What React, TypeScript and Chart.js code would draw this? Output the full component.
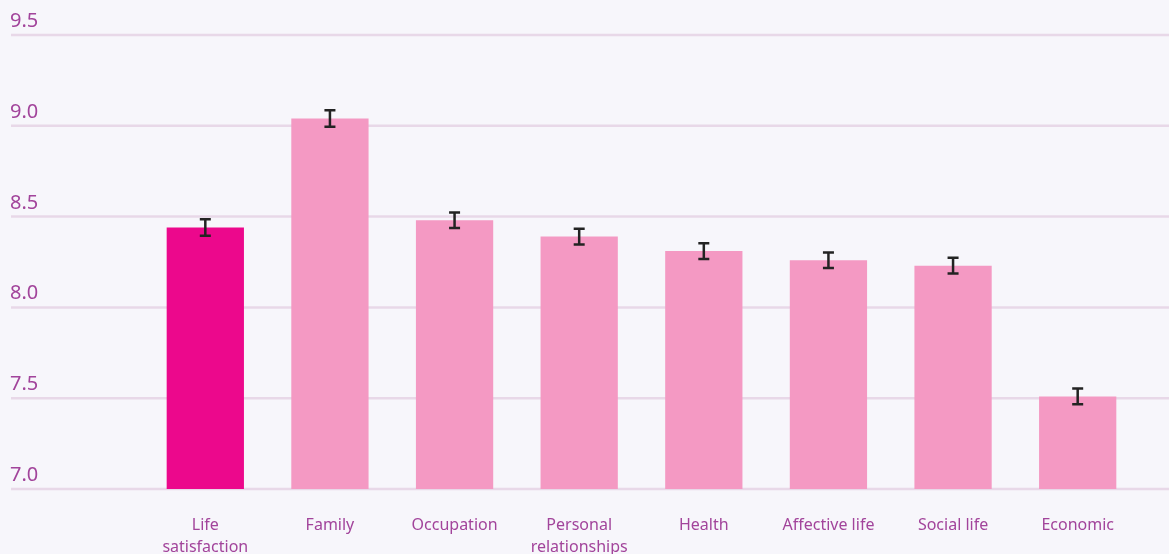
import React, { useEffect, useRef } from "react";
import { Chart, registerables } from "chart.js";

Chart.register(...registerables);

const categories: (string | string[])[] = [
  ["Life", "satisfaction"],
  "Family",
  "Occupation",
  ["Personal", "relationships"],
  "Health",
  "Affective life",
  "Social life",
  "Economic",
];
const values = [8.44, 9.04, 8.48, 8.39, 8.31, 8.26, 8.23, 7.51];
const errors = [0.045, 0.045, 0.043, 0.043, 0.043, 0.043, 0.043, 0.043];
const yTicks = [7.0, 7.5, 8.0, 8.5, 9.0, 9.5];

const BG = "#f7f6fb";
const TEXT = "#a2449b";
const GRID = "#e8d8e8";
const FONT = "'Noto Sans', sans-serif";

export default function App() {
  const ref = useRef<HTMLCanvasElement | null>(null);

  useEffect(() => {
    document.body.style.margin = "0";
    document.body.style.background = BG;
    const canvas = ref.current;
    if (!canvas) return;

    const gridPlugin = {
      id: "fullGrid",
      beforeDatasetsDraw(chart: any) {
        const ctx = chart.ctx;
        const y = chart.scales.y;
        ctx.save();
        ctx.strokeStyle = GRID;
        ctx.lineWidth = 2.5;
        ctx.fillStyle = TEXT;
        ctx.font = `20px ${FONT}`;
        ctx.textAlign = "left";
        ctx.textBaseline = "alphabetic";
        yTicks.forEach((t) => {
          const py = y.getPixelForValue(t);
          ctx.beginPath();
          ctx.moveTo(11, py);
          ctx.lineTo(chart.width, py);
          ctx.stroke();
          ctx.fillText(t.toFixed(1), 10, py - 8);
        });
        ctx.restore();
      },
    };

    const errorPlugin = {
      id: "errorBars",
      afterDatasetsDraw(chart: any) {
        const ctx = chart.ctx;
        const y = chart.scales.y;
        const meta = chart.getDatasetMeta(0);
        ctx.save();
        ctx.strokeStyle = "#232323";
        ctx.lineWidth = 2.5;
        meta.data.forEach((bar: any, i: number) => {
          const x = bar.x;
          const top = y.getPixelForValue(values[i] + errors[i]);
          const bot = y.getPixelForValue(values[i] - errors[i]);
          ctx.beginPath();
          ctx.moveTo(x, top);
          ctx.lineTo(x, bot);
          ctx.moveTo(x - 5.5, top);
          ctx.lineTo(x + 5.5, top);
          ctx.moveTo(x - 5.5, bot);
          ctx.lineTo(x + 5.5, bot);
          ctx.stroke();
        });
        ctx.restore();
      },
    };

    const chart = new Chart(canvas, {
      type: "bar",
      data: {
        labels: categories,
        datasets: [
          {
            data: values,
            backgroundColor: values.map((_, i) => (i === 0 ? "#ec088c" : "#f499c3")),
            barPercentage: 0.62,
            categoryPercentage: 1,
          },
        ],
      },
      options: {
        animation: false,
        responsive: true,
        maintainAspectRatio: false,
        layout: { padding: { left: 143, right: 29, top: 35, bottom: 0 } },
        plugins: { legend: { display: false }, tooltip: { enabled: false } },
        scales: {
          y: {
            display: false,
            min: 7,
            max: 9.5,
          },
          x: {
            grid: { display: false, drawTicks: false },
            border: { display: false },
            ticks: {
              color: TEXT,
              font: { family: FONT, size: 16, lineHeight: "22px" },
              padding: 25,
              maxRotation: 0,
              autoSkip: false,
            },
            afterFit: (scale: any) => {
              scale.height = 65;
            },
          },
        },
      },
      plugins: [gridPlugin, errorPlugin],
    });
    return () => chart.destroy();
  }, []);

  return (
    <div style={{ position: "fixed", left: 0, top: 0, width: 1169, height: 554, background: BG }}>
      <canvas ref={ref} />
    </div>
  );
}
